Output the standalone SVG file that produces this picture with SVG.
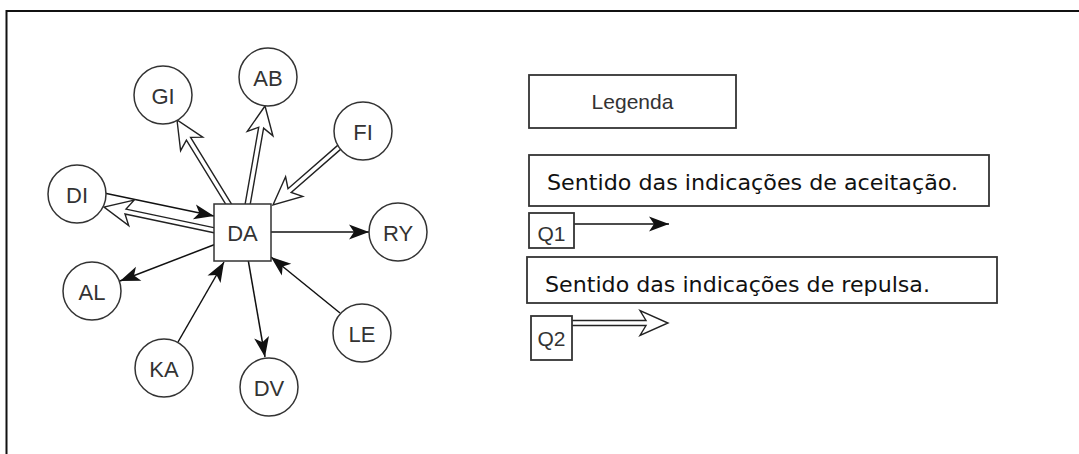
<svg xmlns="http://www.w3.org/2000/svg" width="1079" height="454" viewBox="0 0 1079 454">
  <style>
    .node { fill: #fff; stroke: #333; stroke-width: 1.5; }
    .lbl { font-family: "Liberation Sans", Arial, sans-serif; font-size: 22px; fill: #333; text-anchor: middle; }
    .sent { font-family: "DejaVu Sans", Verdana, sans-serif; font-size: 21px; fill: #111; }
    .edge { fill: none; stroke: #111; stroke-width: 1.5; }
    .flex { fill: #fff; stroke: #222; stroke-width: 1.4; stroke-linejoin: miter; }
    .box { fill: #fff; stroke: #333; stroke-width: 1.8; }
  </style>
  <defs>
    <marker id="arr" markerUnits="userSpaceOnUse" markerWidth="24" markerHeight="18" viewBox="-22 -9 24 18" refX="0" refY="0" orient="auto">
      <path d="M0,0 L-20,-7.5 L-15,0 L-20,7.5 Z" fill="#111"/>
    </marker>
  </defs>
  <rect x="6.5" y="11" width="1100" height="500" fill="#fff" stroke="#111" stroke-width="2"/>

  <g id="connectors">
    <line class="edge" x1="104" y1="193" x2="214" y2="216" marker-end="url(#arr)"/>
    <line class="edge" x1="270" y1="232" x2="369" y2="232" marker-end="url(#arr)"/>
    <line class="edge" x1="216" y1="244" x2="120" y2="281" marker-end="url(#arr)"/>
    <line class="edge" x1="178" y1="342" x2="224" y2="262" marker-end="url(#arr)"/>
    <line class="edge" x1="248" y1="259" x2="265" y2="357" marker-end="url(#arr)"/>
    <line class="edge" x1="340" y1="313" x2="271" y2="257" marker-end="url(#arr)"/>
    <path class="flex" d="M233.1,206.7 L190.6,137.4 L202.7,137.1 L177,120 L180.6,150.7 L186.4,140.1 L228.9,209.3"/>
    <path class="flex" d="M249.5,208.4 L263.6,128.1 L272.9,135.8 L265,106 L247.3,131.3 L258.7,127.2 L244.5,207.6"/>
    <path class="flex" d="M341.4,142.1 L288.0,188.7 L285.6,176.8 L273,205 L302.7,196.4 L291.2,192.4 L344.6,145.9"/>
    <path class="flex" d="M218.5,228.6 L126.0,209.1 L134.1,200.1 L104,207 L128.7,225.5 L125.0,214.0 L217.5,233.5"/>
    <line class="edge" x1="573" y1="224" x2="669" y2="224" marker-end="url(#arr)"/>
    <path class="flex" d="M570,320.5 L646,320.5 L640,310.5 L668,323 L640,335.5 L646,325.5 L570,325.5"/>
  </g>

  <g id="DA"><rect class="node" x="214" y="204" width="57" height="57"/><text class="lbl" x="242.5" y="241">DA</text></g>
  <g id="GI"><circle class="node" cx="163" cy="95" r="29"/><text class="lbl" x="163" y="104">GI</text></g>
  <g id="AB"><circle class="node" cx="268" cy="77" r="29"/><text class="lbl" x="268" y="86">AB</text></g>
  <g id="FI"><circle class="node" cx="363" cy="131" r="29"/><text class="lbl" x="363" y="140">FI</text></g>
  <g id="DI"><circle class="node" cx="77" cy="194" r="29"/><text class="lbl" x="77" y="203">DI</text></g>
  <g id="RY"><circle class="node" cx="398" cy="232" r="29"/><text class="lbl" x="398" y="241">RY</text></g>
  <g id="AL"><circle class="node" cx="92" cy="291" r="29"/><text class="lbl" x="92" y="300">AL</text></g>
  <g id="KA"><circle class="node" cx="164" cy="368" r="29"/><text class="lbl" x="164" y="377">KA</text></g>
  <g id="DV"><circle class="node" cx="269" cy="387" r="29"/><text class="lbl" x="269" y="396">DV</text></g>
  <g id="LE"><circle class="node" cx="362" cy="333" r="29"/><text class="lbl" x="362" y="342">LE</text></g>

  <g id="legenda"><rect class="box" x="529" y="75" width="207" height="53"/><text class="lbl" x="632.5" y="109" style="font-size:21px">Legenda</text></g>
  <g id="aceitacao"><rect class="box" x="529" y="155" width="460" height="51"/><text class="sent" x="547" y="190" textLength="411" lengthAdjust="spacingAndGlyphs">Sentido das indicações de aceitação.</text></g>
  <g id="Q1"><rect class="box" x="529" y="213" width="45" height="35"/><text class="lbl" x="551.5" y="241" style="font-size:21px">Q1</text></g>
  <g id="repulsa"><rect class="box" x="527" y="257" width="470" height="46"/><text class="sent" x="545" y="292" textLength="385" lengthAdjust="spacingAndGlyphs">Sentido das indicações de repulsa.</text></g>
  <g id="Q2"><rect class="box" x="531" y="316" width="41" height="44"/><text class="lbl" x="551.5" y="346" style="font-size:21px">Q2</text></g>
</svg>
